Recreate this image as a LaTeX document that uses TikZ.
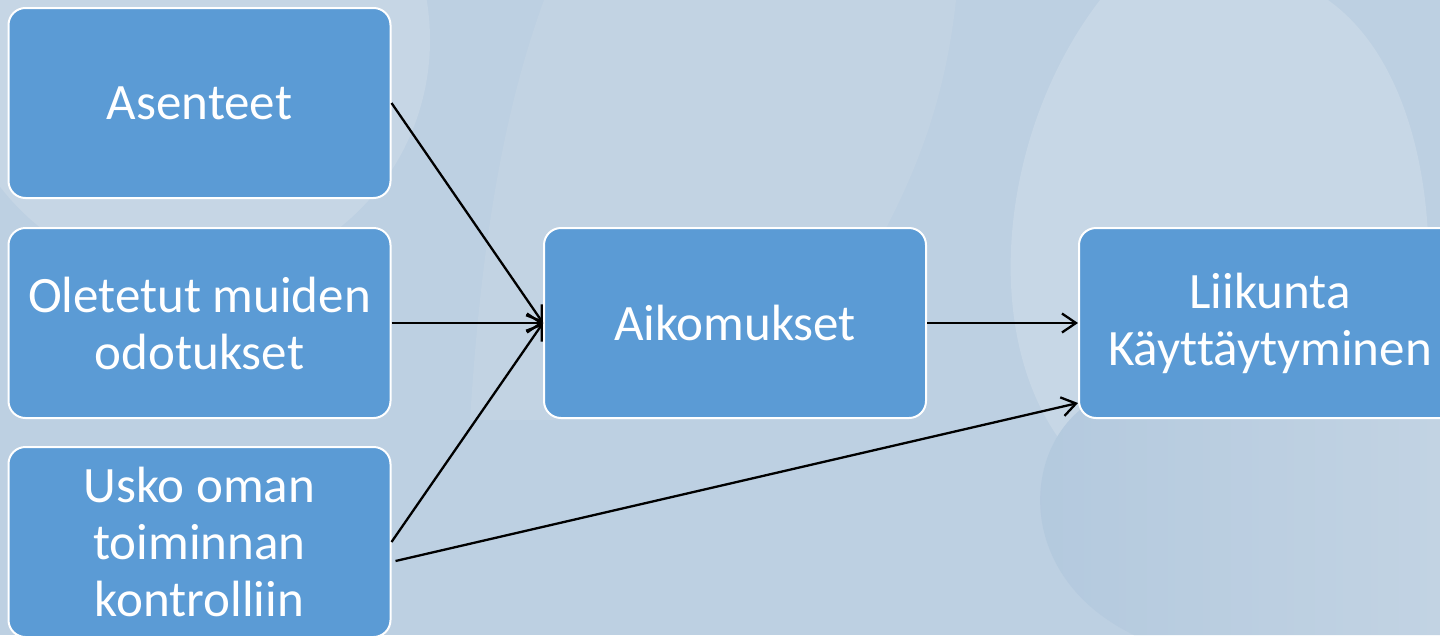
\documentclass[tikz,border=0pt]{standalone}
\usepackage{fontspec}
\setmainfont{Carlito}[Ligatures=NoCommon]
\usetikzlibrary{arrows.meta,calc}

\definecolor{bgbase}{HTML}{BDD0E2}
\definecolor{bglight}{HTML}{C6D6E5}
\definecolor{bgmid}{HTML}{C2D3E3}
\definecolor{bgright}{HTML}{C7D7E6}
\definecolor{bgdark}{HTML}{B3C9DE}
\definecolor{boxblue}{HTML}{5B9BD5}

\tikzset{
  factor/.style={draw=white, line width=2pt, fill=boxblue, rounded corners=17pt,
    minimum width=382pt, minimum height=190pt, inner sep=0pt,
    text=white, align=center, font=\fontsize{51}{57}\selectfont},
  link/.style={draw=black, line width=2.3pt,
    -{Straight Barb[length=14pt,width=19pt,line width=2.3pt]}},
}

\begin{document}
\begin{tikzpicture}[x=1pt,y=-1pt]
  \useasboundingbox (0,0) rectangle (1440,635);
  \clip (0,0) rectangle (1440,635);

  % backdrop: pale blue with soft lighter and darker swathes
  \fill[bgbase] (0,0) rectangle (1440,635);
  \fill[bglight] (190,40) circle[radius=240pt];
  \fill[bgmid] (544,0) .. controls (500,120) and (480,260) .. (470,420)
     -- (760,420) .. controls (880,260) and (940,150) .. (956,0) -- cycle;
  \fill[bgright] (1100,0) .. controls (1000,130) and (980,330) .. (1060,440)
     -- (1400,440) .. controls (1450,300) and (1440,80) .. (1328,0) -- cycle;
  \shade[left color=bgdark, right color=bgmid]
     (1080,410) .. controls (1020,460) and (1020,580) .. (1134,635)
     -- (1440,635) -- (1440,410) -- cycle;

  % factors
  \node[factor] (asen) at (199.5,103) {Asenteet};
  \node[factor] (olet) at (199.5,323) {Oletetut muiden\\odotukset};
  \node[factor] (usko) at (199.5,542) {Usko oman\\toiminnan\\kontrolliin};
  \node[factor] (aiko) at (735,323) {Aikomukset};
  \node[factor] (liik) at (1270,323) {Liikunta\\Käyttäytyminen};

  % influences
  \draw[link] (asen.east) -- (aiko.west);
  \draw[link] (olet.east) -- (aiko.west);
  \draw[link] (usko.east) -- (aiko.west);
  \draw[link] (aiko.east) -- (liik.west);
  \draw[link] ($(usko.east)+(4,19)$) -- ($(liik.west)+(0,80)$);
\end{tikzpicture}
\end{document}
